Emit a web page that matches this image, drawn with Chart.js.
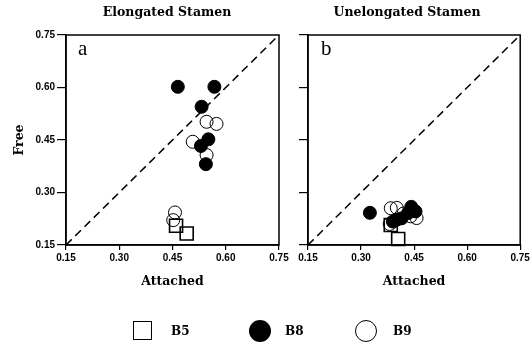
<!DOCTYPE html>
<html><head><meta charset="utf-8">
<script src="https://cdn.jsdelivr.net/npm/chart.js@4.4.1/dist/chart.umd.min.js"></script>
<style>
html,body{margin:0;padding:0;background:#fff;}
#wrap{position:relative;width:531px;height:346px;overflow:hidden;}
canvas{position:absolute;top:0;}
.t{position:absolute;font-family:"DejaVu Serif",serif;font-weight:bold;font-size:12.5px;color:#000;white-space:nowrap;transform:translateX(-50%);}
.p{position:absolute;font-family:"Liberation Serif",serif;font-size:21px;color:#000;}
.lg{position:absolute;font-family:"DejaVu Serif",serif;font-weight:bold;font-size:12px;color:#000;}
</style></head>
<body><div id="wrap">
<canvas id="c1" width="290" height="346" style="left:0;width:290px;height:346px"></canvas>
<canvas id="c2" width="241" height="346" style="left:290px;width:241px;height:346px"></canvas>
<div class="t" style="left:167px;top:4px">Elongated Stamen</div>
<div class="t" style="left:407px;top:4px">Unelongated Stamen</div>
<div class="p" style="left:78px;top:36px">a</div>
<div class="p" style="left:321px;top:36px">b</div>
<div style="position:absolute;left:133px;top:321px;width:17px;height:17px;border:1.5px solid #000"></div>
<div class="lg" style="left:171px;top:324px">B5</div>
<div style="position:absolute;left:249px;top:320px;width:22px;height:22px;border-radius:50%;background:#000"></div>
<div class="lg" style="left:285px;top:324px">B8</div>
<div style="position:absolute;left:355px;top:320px;width:20px;height:20px;border-radius:50%;border:1.3px solid #000"></div>
<div class="lg" style="left:393px;top:324px">B9</div>
</div>
<script>
// Elongated stamen (panel a): [attached, free]
const elongB5 = [[0.460,0.205],[0.490,0.183]];
const elongB8 = [[0.465,0.602],[0.568,0.602],[0.532,0.545],[0.551,0.452],[0.530,0.433],[0.544,0.381]];
const elongB9 = [[0.546,0.502],[0.574,0.496],[0.507,0.445],[0.546,0.407],[0.457,0.243],[0.452,0.221]];
// Unelongated stamen (panel b)
const unelB5 = [[0.405,0.167],[0.384,0.207]];
const unelB8 = [[0.325,0.242],[0.442,0.259],[0.454,0.246],[0.433,0.241],[0.414,0.226],[0.390,0.217],[0.400,0.222]];
const unelB9 = [[0.384,0.255],[0.401,0.256],[0.381,0.210],[0.457,0.227],[0.420,0.240],[0.440,0.232]];
const axisMin = 0.15, axisMax = 0.75, axisStep = 0.15;
const diagonal = [[0.15,0.15],[0.75,0.75]];

const toXY = a => a.map(p => ({x:p[0], y:p[1]}));
const frame = {
  id:'frame',
  afterDraw(chart){
    const {ctx, chartArea:a} = chart;
    ctx.save(); ctx.strokeStyle='#000'; ctx.lineWidth=1.5;
    ctx.strokeRect(a.left, a.top, a.right-a.left, a.bottom-a.top);
    ctx.restore();
  }
};
function makeChart(id, b5, b8, b9, showYLabels, yWidth, padRight){
  return new Chart(document.getElementById(id), {
    type:'scatter',
    data:{datasets:[
      {type:'line', data:toXY(diagonal), borderColor:'#000', borderWidth:1.5, borderDash:[8,5], pointRadius:0, fill:false},
      {label:'B5', data:toXY(b5), pointStyle:'rect', pointRadius:9.2, backgroundColor:'rgba(0,0,0,0)', borderColor:'#000', borderWidth:1.6, clip:false},
      {label:'B9', data:toXY(b9), pointStyle:'circle', pointRadius:6.5, backgroundColor:'rgba(0,0,0,0)', borderColor:'#000', borderWidth:1, clip:false},
      {label:'B8', data:toXY(b8), pointStyle:'circle', pointRadius:6.5, backgroundColor:'#000', borderColor:'#000', borderWidth:1, clip:false}
    ]},
    options:{
      responsive:false, animation:false, devicePixelRatio:1,
      layout:{padding:{top:35, right:padRight, bottom:51, left:0}},
      plugins:{legend:{display:false}, tooltip:{enabled:false}},
      scales:{
        x:{type:'linear', min:axisMin, max:axisMax,
          ticks:{stepSize:axisStep, color:'#000', padding:2, maxRotation:0,
            font:{family:'Liberation Sans', weight:'bold', size:10},
            callback:v=>v.toFixed(2)},
          grid:{drawOnChartArea:false, drawTicks:true, tickLength:5, color:'#000', lineWidth:1.2},
          border:{display:true, color:'#000', width:1.5},
          title:{display:true, text:'Attached', color:'#000', padding:{top:0,bottom:6},
            font:{family:'DejaVu Serif', weight:'bold', size:12.5}},
          afterFit(s){ s.height = 50; s.paddingLeft = 0; s.paddingRight = 0; }
        },
        y:{type:'linear', min:axisMin, max:axisMax,
          ticks:{stepSize:axisStep, color: showYLabels ? '#000' : 'rgba(0,0,0,0)', padding:2,
            font:{family:'Liberation Sans', weight:'bold', size:10},
            callback:v=>v.toFixed(2)},
          grid:{drawOnChartArea:false, drawTicks:true, tickLength:9, color:'#000', lineWidth:1.2},
          border:{display:true, color:'#000', width:1.5},
          title:{display:showYLabels, text:'Free', color:'#000', padding:{top:12,bottom:0},
            font:{family:'DejaVu Serif', weight:'bold', size:12.5}},
          afterFit(s){ s.width = yWidth; s.paddingTop = 0; s.paddingBottom = 0; }
        }
      }
    },
    plugins:[frame]
  });
}
makeChart('c1', elongB5, elongB8, elongB9, true, 66, 11);
makeChart('c2', unelB5, unelB8, unelB9, false, 18, 10);
</script>
</body></html>
